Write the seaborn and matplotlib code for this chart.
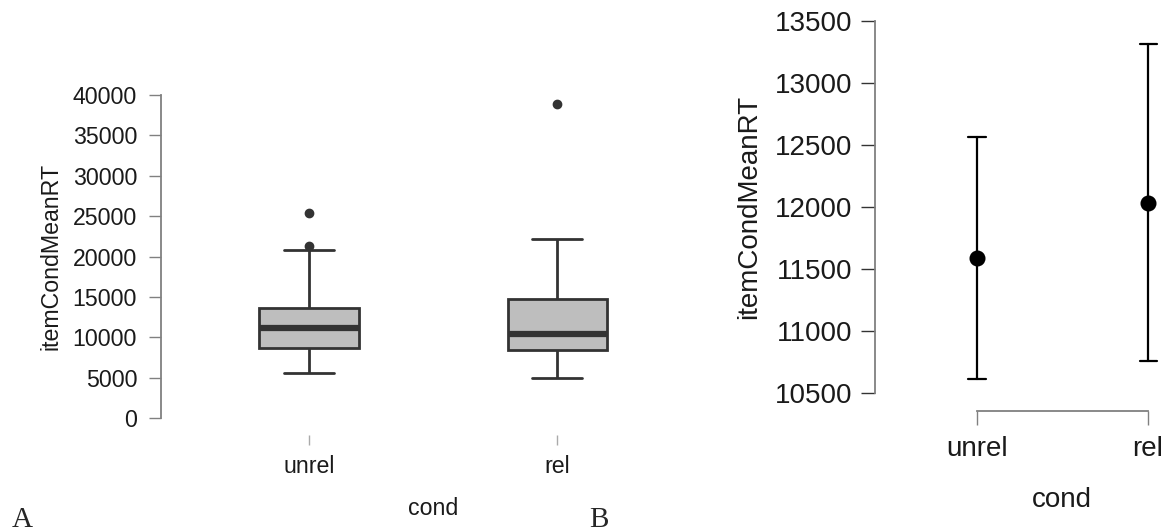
import numpy as np
import pandas as pd
import matplotlib
matplotlib.use("Agg")
import matplotlib.pyplot as plt
import seaborn as sns

# ---------------- data ----------------
conds = ["unrel", "rel"]
# item-level mean RTs per condition (values chosen to reproduce the boxplot)
rt_unrel = [5530, 7200, 8100, 8630, 9600, 10500, 11180, 12000, 12900, 13660, 20840, 21340, 25350]
rt_rel = [4920, 6800, 7900, 8460, 9100, 9800, 10370, 11500, 13200, 14780, 17500, 22170, 38890]

# panel B: mean and 95% CI
means = [11586, 12035]
ci_lower = [10611, 10754]
ci_upper = [12563, 13317]

left_yticks = [0, 5000, 10000, 15000, 20000, 25000, 30000, 35000, 40000]
right_yticks = [10500, 11000, 11500, 12000, 12500, 13000, 13500]

df_box = pd.DataFrame({
    "cond": ["unrel"] * len(rt_unrel) + ["rel"] * len(rt_rel),
    "itemCondMeanRT": rt_unrel + rt_rel,
})
df_pt = pd.DataFrame({
    "cond": [c for c in conds for _ in range(3)],
    "itemCondMeanRT": [v for i in range(2) for v in (ci_lower[i], means[i], ci_upper[i])],
})

# ---------------- style ----------------
sns.set_style("white")
plt.rcParams["font.family"] = ["Liberation Sans", "DejaVu Sans"]
plt.rcParams["xtick.bottom"] = True
plt.rcParams["ytick.left"] = True

W, H = 1165, 531
fig = plt.figure(figsize=(W / 100, H / 100), dpi=100)

# ---------------- panel A ----------------
ax1 = fig.add_axes([161 / W, (H - 418) / H, (706 - 161) / W, 323 / H])
sns.boxplot(
    data=df_box, x="cond", y="itemCondMeanRT", order=conds,
    color="#BEBEBE", saturation=1, width=0.4, linecolor="#333333", linewidth=2,
    medianprops=dict(linewidth=4.5, color="#333333"),
    flierprops=dict(marker="o", markerfacecolor="#333333", markeredgecolor="#333333", markersize=6),
    ax=ax1,
)
ax1.set_xlim(-0.597, 1.6)
ax1.set_ylim(0, 40000)
ax1.set_yticks(left_yticks)
ax1.set_yticklabels([str(t) for t in left_yticks])
for s in ["top", "right"]:
    ax1.spines[s].set_visible(False)
ax1.spines["bottom"].set_position(("outward", 12.2))
ax1.spines["bottom"].set_visible(False)
ax1.spines["left"].set_bounds(0, 40000)
ax1.spines["left"].set_color("#808080")
ax1.spines["left"].set_linewidth(1.3)
ax1.tick_params(axis="x", bottom=True, length=7.2, width=1, color="#aaaaaa", pad=7, labelsize=16.7, labelcolor="#1a1a1a")
ax1.tick_params(axis="y", left=True, length=8.6, width=1, color="#808080", pad=8.6, labelsize=16.7, labelcolor="#1a1a1a")
ax1.set_ylabel("itemCondMeanRT", fontsize=16.7, color="#1a1a1a")
ax1.set_xlabel("cond", fontsize=16.7, color="#1a1a1a")
ax1.yaxis.set_label_coords((63 - 161) / 545, 0.5)
ax1.xaxis.set_label_coords(0.5, (418 - 497) / 323)

# ---------------- panel B ----------------
ax2 = fig.add_axes([875 / W, (H - 392.7) / H, 290 / W, 371.4 / H])
sns.pointplot(
    data=df_pt, x="cond", y="itemCondMeanRT", order=conds,
    estimator="median", errorbar=lambda v: (np.min(v), np.max(v)),
    color="black", markers="o", linestyles="none", capsize=0.1,
    err_kws=dict(linewidth=1.6, color="black"), markersize=9.5,
    ax=ax2,
)
ax2.set_xlim(-0.596, 1.099)
ax2.set_ylim(10500, 13500)
ax2.set_yticks(right_yticks)
ax2.set_yticklabels([str(t) for t in right_yticks])
for s in ["top", "right"]:
    ax2.spines[s].set_visible(False)
ax2.spines["bottom"].set_position(("outward", 13))
ax2.spines["bottom"].set_bounds(0, 1)
ax2.spines["bottom"].set_color("#808080")
ax2.spines["left"].set_bounds(10500, 13500)
ax2.spines["left"].set_color("#808080")
ax2.spines["left"].set_linewidth(1.3)
ax2.spines["bottom"].set_linewidth(1.3)
ax2.tick_params(axis="x", bottom=True, length=10, width=1, color="#808080", pad=8, labelsize=20, labelcolor="#1a1a1a")
ax2.tick_params(axis="y", left=True, length=10, width=1, color="#333333", pad=6.5, labelsize=20, labelcolor="#1a1a1a")
ax2.set_ylabel("itemCondMeanRT", fontsize=20, color="#1a1a1a")
ax2.set_xlabel("cond", fontsize=20, color="#1a1a1a")
ax2.yaxis.set_label_coords((762 - 875) / 290, 0.5)
ax2.xaxis.set_label_coords((1062 - 875) / 290, (392.7 - 487) / 371.4)

# panel letters
fig.text(12 / W, (H - 527) / H, "A", family="Liberation Serif", fontsize=21, ha="left", va="baseline")
fig.text(589 / W, (H - 527) / H, "B", family="Liberation Serif", fontsize=21, ha="left", va="baseline")

fig.savefig("out.png", dpi=100)
